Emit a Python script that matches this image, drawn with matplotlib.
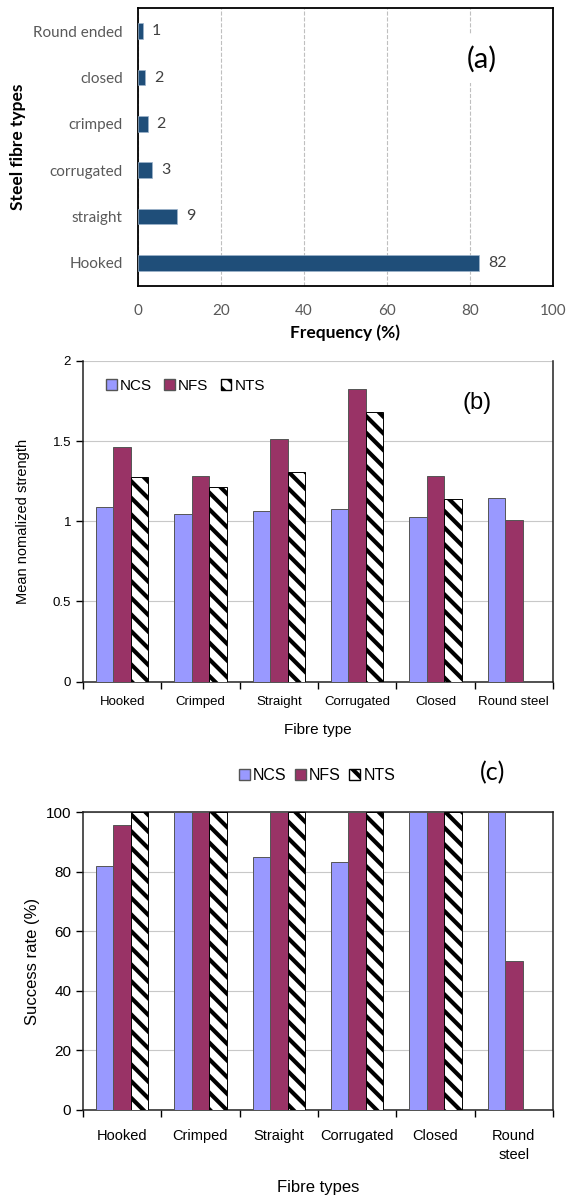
import numpy as np
import matplotlib
matplotlib.use("Agg")
import matplotlib.pyplot as plt
from matplotlib.patches import Patch

# panel (a) data
a_types = ['Hooked', 'straight', 'corrugated', 'crimped', 'closed', 'Round ended']
a_freq = [82.3, 9.3, 3.4, 2.3, 1.8, 1.1]

# panels (b) and (c)
b_types = ['Hooked', 'Crimped', 'Straight', 'Corrugated', 'Closed', 'Round steel']
ncs_str = [1.087, 1.048, 1.066, 1.077, 1.027, 1.143]
nfs_str = [1.462, 1.280, 1.512, 1.823, 1.284, 1.010]
nts_str = [1.274, 1.216, 1.309, 1.680, 1.137, np.nan]

c_types = ['Hooked', 'Crimped', 'Straight', 'Corrugated', 'Closed', 'Round\nsteel']
ncs_rate = [82, 100, 85, 83.3, 100, 100]
nfs_rate = [95.5, 100, 100, 100, 100, 50]
nts_rate = [100, 100, 100, 100, 100, np.nan]

NCS_C = '#9999ff'
NFS_C = '#993366'
plt.rcParams['font.family'] = ['Liberation Sans', 'DejaVu Sans']
plt.rcParams['hatch.linewidth'] = 3.0

fig = plt.figure(figsize=(5.66, 11.98), dpi=100)

# ---------- (a) ----------
ax1 = fig.add_axes([0.2438, 0.7613, 0.733, 0.232])
y = np.arange(len(a_types))
ax1.barh(y, a_freq, height=0.34, color='#1f4e79', edgecolor='#9db4cc', linewidth=0.5, zorder=3)
for yi, v in zip(y, a_freq):
    ax1.text(v + 2.2, yi, f"{v:.0f}", va='center', ha='left', fontsize=11.5,
             color='#404040', family='Lato')
ax1.set_xlim(0, 100)
ax1.set_ylim(-0.5, 5.5)
ax1.set_xticks([0, 20, 40, 60, 80, 100])
ax1.set_yticks(y)
ax1.set_yticklabels(a_types)
ax1.tick_params(length=0, labelsize=11, labelcolor='#595959')
ax1.tick_params(axis='y', pad=11)
ax1.tick_params(axis='x', pad=13)
for lab in ax1.get_xticklabels() + ax1.get_yticklabels():
    lab.set_family('Lato')
ax1.xaxis.grid(True, linestyle='--', color='#bfbfbf', linewidth=0.8, zorder=0)
for s in ax1.spines.values():
    s.set_linewidth(1.3)
ax1.set_xlabel('Frequency (%)', fontsize=12.5, fontweight='bold', family='Lato')
ax1.xaxis.set_label_coords(0.5, -0.14)
ax1.set_ylabel('Steel fibre types', fontsize=12.5, fontweight='bold', family='Lato')
ax1.yaxis.set_label_coords(-0.27, 0.5)
ax1.text(0.829, 0.817, '(a)', transform=ax1.transAxes, fontsize=21, family='Lato',
         ha='center', va='center', zorder=4,
         bbox=dict(facecolor='white', edgecolor='none', pad=8))


def grouped(ax, cats, s1, s2, s3):
    x = np.arange(len(cats))
    w = 1 / 4.5
    ax.bar(x - w, s1, w, color=NCS_C, edgecolor='#555555', linewidth=0.7, zorder=3)
    ax.bar(x, s2, w, color=NFS_C, edgecolor='#555555', linewidth=0.7, zorder=3)
    ax.bar(x + w, s3, w, color='white', edgecolor='black', hatch='\\\\', linewidth=0.7, zorder=3)
    ax.set_xlim(-0.5, len(cats) - 0.5)
    ax.set_xticks(x)
    ax.set_xticklabels(cats)
    ax.set_xticks(np.arange(len(cats) + 1) - 0.5, minor=True)
    ax.tick_params(axis='x', which='major', length=0, pad=10)
    ax.tick_params(axis='x', which='minor', length=5, width=1)
    ax.tick_params(axis='y', length=5, width=1)
    ax.yaxis.grid(True, color='#c8c8c8', linewidth=0.8, zorder=0)
    for s in ax.spines.values():
        s.set_linewidth(1.1)
        s.set_color('#222222')


legend_handles = [Patch(facecolor=NCS_C, edgecolor='#555555', label='NCS'),
                  Patch(facecolor=NFS_C, edgecolor='#555555', label='NFS'),
                  Patch(facecolor='white', edgecolor='black', hatch='\\\\', label='NTS')]

# ---------- (b) ----------
ax2 = fig.add_axes([0.1466, 0.431, 0.8304, 0.2677])
grouped(ax2, b_types, ncs_str, nfs_str, nts_str)
ax2.set_ylim(0, 2)
ax2.set_yticks([0, 0.5, 1, 1.5, 2])
ax2.set_yticklabels(['0', '0.5', '1', '1.5', '2'])
ax2.spines['top'].set_visible(False)
ax2.tick_params(labelsize=9.5)
ax2.set_xlabel('Fibre type', fontsize=11)
ax2.xaxis.set_label_coords(0.5, -0.128)
ax2.set_ylabel('Mean nomalized strength', fontsize=10.5)
ax2.yaxis.set_label_coords(-0.113, 0.5)
ax2.legend(handles=legend_handles, ncol=3, loc='center left', bbox_to_anchor=(0.02, 0.922),
           frameon=False, fontsize=11, handlelength=0.7, handleheight=0.7,
           handletextpad=0.2, columnspacing=0.8)
ax2.text(0.838, 0.869, '(b)', transform=ax2.transAxes, fontsize=17, ha='center', va='center')

# ---------- (c) ----------
ax3 = fig.add_axes([0.1466, 0.0735, 0.8304, 0.2487])
grouped(ax3, c_types, ncs_rate, nfs_rate, nts_rate)
ax3.set_ylim(0, 100)
ax3.set_yticks([0, 20, 40, 60, 80, 100])
ax3.tick_params(labelsize=11)
ax3.tick_params(axis='x', labelsize=10.5, pad=14)
for lab in ax3.get_xticklabels():
    lab.set_linespacing(1.4)
ax3.set_xlabel('Fibre types', fontsize=12)
ax3.xaxis.set_label_coords(0.5, -0.235)
ax3.set_ylabel('Success rate (%)', fontsize=12)
ax3.yaxis.set_label_coords(-0.091, 0.5)
ax3.legend(handles=legend_handles, ncol=3, loc='center', bbox_to_anchor=(0.498, 1.121),
           frameon=False, fontsize=11.5, handlelength=0.7, handleheight=0.7,
           handletextpad=0.2, columnspacing=0.5)
ax3.text(0.872, 1.131, '(c)', transform=ax3.transAxes, fontsize=18, family='Lato',
         ha='center', va='center')

fig.savefig('out.png', dpi=100)
